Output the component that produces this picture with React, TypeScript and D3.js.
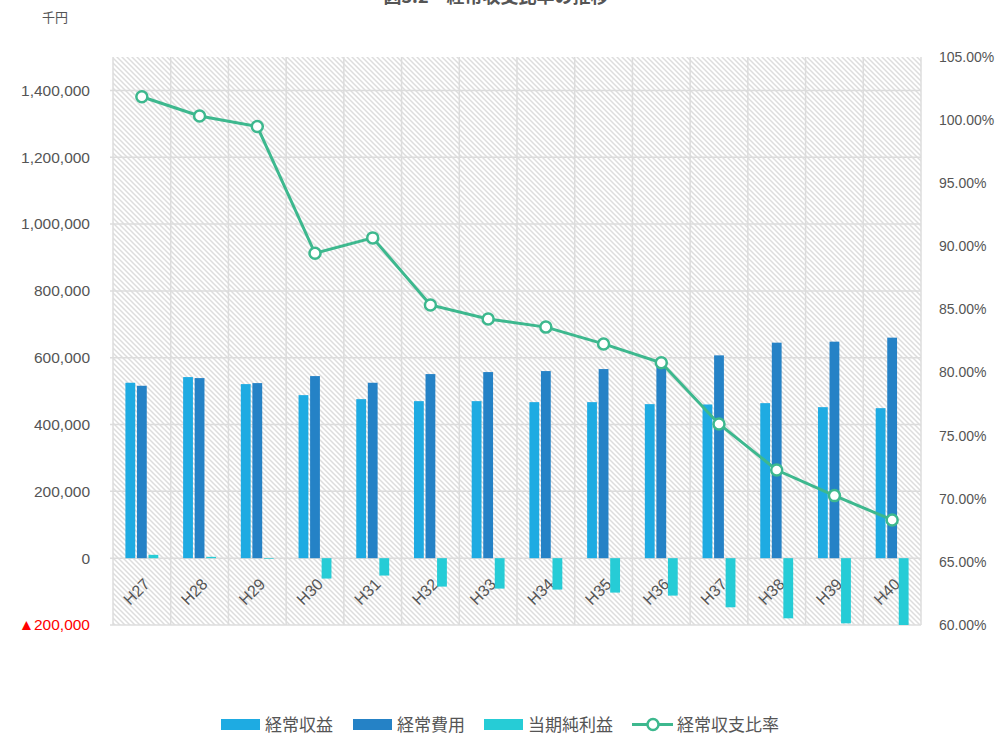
import React from "react";
import * as d3 from "d3";

const categories = ["H27","H28","H29","H30","H31","H32","H33","H34","H35","H36","H37","H38","H39","H40"];
const revenue = [525000,542000,521000,488000,476000,470000,470000,467000,467000,461000,460000,464000,452000,449000];
const expense = [516000,539000,524000,545000,525000,551000,557000,560000,566000,573000,607000,645000,648000,660000];
const netIncome = [10000,4000,-2000,-61000,-52000,-85000,-91000,-94000,-103000,-112000,-147000,-180000,-195000,-210000];
const ratio = [101.85,100.33,99.49,89.45,90.67,85.36,84.25,83.6,82.27,80.78,75.93,72.28,70.25,68.32];
const leftTicks = [-200000,0,200000,400000,600000,800000,1000000,1200000,1400000];
const rightTicks = [60,65,70,75,80,85,90,95,100,105];
const seriesNames = ["経常収益","経常費用","当期純利益","経常収支比率"];
const colors = ["#1EABE2","#2582C6","#26CCD6","#3DB88E"];

export default function App() {
  const W = 1004, H = 740;
  const L = 113, R = 921, T = 57, B = 625;
  const x = d3.scaleBand<string>().domain(categories).range([L, R]).padding(0);
  const y = d3.scaleLinear().domain([-200000, 1500000]).range([B, T]);
  const y2 = d3.scaleLinear().domain([60, 105]).range([B, T]);
  const bw = x.bandwidth();
  const inner = d3.scaleBand<number>().domain([0,1,2]).range([0, bw * 0.6]).paddingInner(0.15).paddingOuter(0.075);
  const off = bw * 0.2;
  const fmt = d3.format(",");
  const series = [revenue, expense, netIncome];
  const line = d3.line<number>().x((_, i) => (x(categories[i]) as number) + bw / 2).y(d => y2(d));
  const numFont = "'Liberation Sans', Arial, sans-serif";
  const jpFont = "'Noto Sans CJK JP', sans-serif";

  const legendItems = [
    { x: 221, tx: 265 },
    { x: 353, tx: 397 },
    { x: 484, tx: 528 },
  ];

  return (
    <svg width={W} height={H} style={{ position: "absolute", left: 0, top: 0, background: "#fff" }}>
      <defs>
        <pattern id="hatch" patternUnits="userSpaceOnUse" width={5} height={5}>
          <rect width={5} height={5} fill="#ffffff" />
          <path d="M-1,-1 L6,6 M-1,4 L1,6 M4,-1 L6,1" stroke="#dddddd" strokeWidth={1.5} />
        </pattern>
        <clipPath id="plotclip">
          <rect x={L} y={T} width={R - L} height={B - T} />
        </clipPath>
      </defs>
      <text x={496} y={3} textAnchor="middle" fontFamily={jpFont} fontSize={18} fontWeight="bold" fill="#555">図3.2　経常収支比率の推移</text>
      <text x={42} y={22} fontFamily={jpFont} fontSize={13} fill="#555">千円</text>
      <rect x={L} y={T} width={R - L} height={B - T} fill="url(#hatch)" />
      {leftTicks.map(t => (
        <line key={"h" + t} x1={L - 3} x2={R} y1={y(t)} y2={y(t)} stroke="#dcdcdc" strokeWidth={1.5} />
      ))}
      {d3.range(categories.length + 1).map(i => (
        <line key={"v" + i} x1={L + i * bw} x2={L + i * bw} y1={T} y2={B} stroke="#dcdcdc" strokeWidth={1.5} />
      ))}
      {leftTicks.map(t => (
        <text key={"lt" + t} x={90} y={y(t)} dy="0.35em" textAnchor="end" fontFamily={numFont} fontSize={15.5}
          fill={t < 0 ? "#ff0000" : "#555"}>{t < 0 ? "▲" + fmt(-t) : fmt(t)}</text>
      ))}
      {rightTicks.map(t => (
        <text key={"rt" + t} x={939} y={y2(t)} dy="0.35em" textAnchor="start" fontFamily={numFont} fontSize={14}
          fill="#555">{t.toFixed(2) + "%"}</text>
      ))}
      {categories.map(c => {
        const ax = (x(c) as number) + bw / 2 + 9;
        const ay = y(0) + 27;
        return (
          <text key={"xl" + c} x={ax} y={ay} textAnchor="end" transform={`rotate(-45 ${ax} ${ay})`}
            fontFamily={numFont} fontSize={16} fill="#555">{c}</text>
        );
      })}
      <g clipPath="url(#plotclip)">
        {series.map((s, si) => s.map((v, i) => (
          <rect key={si + "-" + i}
            x={(x(categories[i]) as number) + off + (inner(si) as number)}
            width={inner.bandwidth()}
            y={Math.min(y(v), y(0))}
            height={Math.abs(y(v) - y(0))}
            fill={colors[si]} />
        )))}
      </g>
      <path d={line(ratio) as string} fill="none" stroke={colors[3]} strokeWidth={3} />
      {ratio.map((v, i) => (
        <circle key={"c" + i} cx={(x(categories[i]) as number) + bw / 2} cy={y2(v)} r={5.5}
          fill="#fff" stroke={colors[3]} strokeWidth={2.5} />
      ))}
      {legendItems.map((li, i) => (
        <g key={"lg" + i}>
          <rect x={li.x} y={719} width={39} height={11} fill={colors[i]} />
          <text x={li.tx} y={725} dy="0.36em" fontFamily={jpFont} fontSize={17} fill="#555">{seriesNames[i]}</text>
        </g>
      ))}
      <g>
        <line x1={632} x2={673} y1={724.5} y2={724.5} stroke={colors[3]} strokeWidth={3} />
        <circle cx={653} cy={724.5} r={5.5} fill="#fff" stroke={colors[3]} strokeWidth={2.5} />
        <text x={677} y={725} dy="0.36em" fontFamily={jpFont} fontSize={17} fill="#555">{seriesNames[3]}</text>
      </g>
    </svg>
  );
}
